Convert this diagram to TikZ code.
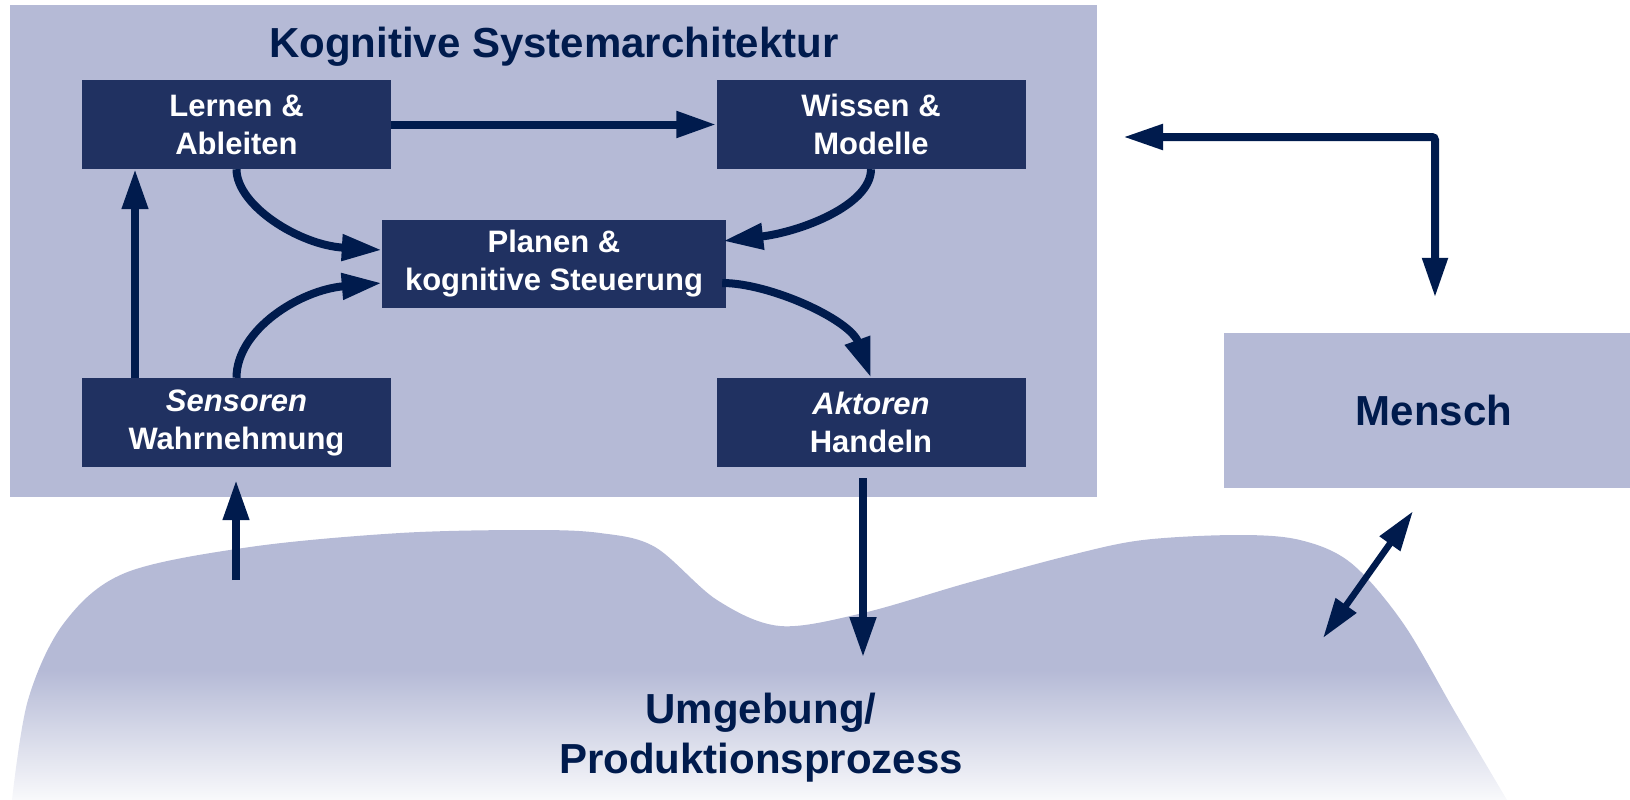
\documentclass[tikz,border=0pt]{standalone}
\usepackage{fontspec}
\setmainfont{Liberation Sans}
\usetikzlibrary{arrows.meta,calc}
\definecolor{lav}{RGB}{181,186,214}
\definecolor{boxc}{RGB}{32,49,97}
\definecolor{navy}{RGB}{0,27,77}
\begin{document}
\begin{tikzpicture}[x=1pt,y=-1pt,
  blk/.style={fill=boxc,text=white,font=\fontsize{31}{38}\selectfont\bfseries,align=center,minimum width=309pt,minimum height=89pt,inner sep=0pt},
  bigtxt/.style={text=navy,font=\fontsize{42}{50}\selectfont\bfseries,align=center},
  lavbox/.style={fill=lav,inner sep=0pt},
  arr/.style={draw=navy,line width=8pt,-{Triangle[length=40pt,width=25pt]}},
  darr/.style={draw=navy,line width=6.5pt,{Triangle[length=40pt,width=24pt]}-{Triangle[length=40pt,width=24pt]}}
]
\useasboundingbox (0,0) rectangle (1630,800);

% environment hill
\begin{scope}
\clip plot[smooth,tension=0.55] coordinates {(12,800) (28,700) (64,623) (125,573) (250,547) (400,533) (530,530) (600,533) (655,547) (717,600) (780,626) (863,613) (967,583) (1071,555) (1143,540) (1237,535) (1300,540) (1351,563) (1403,623) (1455,712) (1507,800)} -- cycle;
\fill[lav] (0,480) rectangle (1630,670);
\shade[top color=lav,bottom color=lav!8] (0,670) rectangle (1630,801);
\end{scope}

% architecture frame
\node[lavbox,minimum width=1087pt,minimum height=492pt] (arch) at (553.5,251) {};
\node[bigtxt,anchor=base] (title) at (554,58) {Kognitive Systemarchitektur};

% blocks
\node[blk] (lern) at (236.5,124.5) {Lernen \&\\Ableiten};
\node[blk] (wiss) at (871,124.5) {Wissen \&\\Modelle};
\node[blk,minimum width=344pt,minimum height=88pt] (plan) at (554,264) {Planen \&\\kognitive Steuerung};
\node[blk] (sens) at (236.5,422.5) {\textit{Sensoren}\\Wahrnehmung};
\node[blk] (akt) at (871,422.5) {\textit{Aktoren}\\Handeln};

% Mensch
\node[lavbox,bigtxt,minimum width=420pt,minimum height=155pt] (mensch) at (1434,410.5) {Mensch};

% environment label
\node[bigtxt] (env) at (761,738) {Umgebung/\\Produktionsprozess};

% internal connectors
\draw[arr] (lern) -- (wiss);
\draw[arr,line width=7.5pt] ($(sens.north)+(-101.5,0)$) -- ($(lern.south)+(-101.5,0)$);
\draw[arr] (lern.south) .. controls +(0,36) and +(-83,-5) .. ($(plan.west)+(0,-14)$);
\draw[arr] (sens.north) .. controls +(0,-48) and +(-82,7) .. ($(plan.west)+(0,19)$);
\draw[arr] (wiss.south) .. controls +(0,36) and +(77,-9) .. ($(plan.east)+(-3,-23)$);
\draw[arr] ($(plan.east)+(-4,19)$) .. controls +(48,0) and +(-21,-58) .. (akt.north);

% external connectors
\coordinate (su) at ($(sens.south)+(-0.5,113)$);
\draw[arr,line width=7.5pt] (su) -- ($(sens.south)+(-0.5,13)$);
\coordinate (ad) at ($(akt.south)+(-8,190)$);
\draw[arr,line width=7.5pt] ($(akt.south)+(-8,11)$) -- (ad);
\coordinate (mk) at (1123,137);
\draw[darr,line width=8pt,rounded corners=3pt] (mk) -| ($(mensch.north)+(1,-35)$);
\coordinate (md) at (1323,638);
\draw[darr] (md) -- ($(mensch.south)+(-21,23)$);
\end{tikzpicture}
\end{document}
